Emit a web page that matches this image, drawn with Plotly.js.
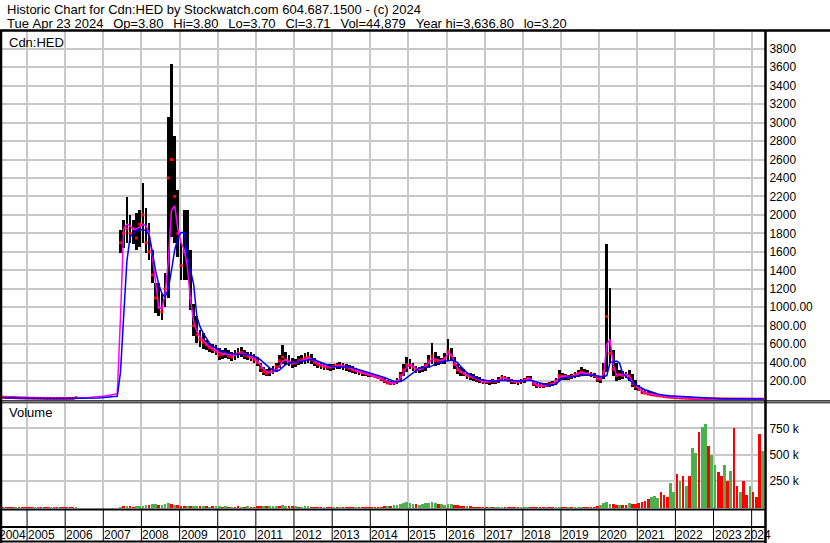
<!DOCTYPE html>
<html>
<head>
<meta charset="utf-8">
<script src="https://cdn.plot.ly/plotly-3.0.1.min.js"></script>
<style>
html,body{margin:0;padding:0;background:#fff;}
#chart{width:830px;height:543px;}
</style>
</head>
<body>
<div id="chart"></div>
<script>
// Monthly data, first month = May 2004, last month = April 2024
const firstYear = 2004, firstMonth = 5;

const high = [
  35,32,30,30,28,26,25,24,
  22,20,20,19,19,18,18,18,17,17,17,17,
  17,17,18,30,null,null,null,null,null,null,null,null,
  null,null,null,null,null,1835,1950,2196,2000,1950,2020,2050,
  2343,2080,1910,1620,1260,1260,1150,1370,3060,3636.8,2852,2270,
  1700,2050,2050,1620,1040,900,755,720,650,615,600,590,
  560,540,560,540,520,540,560,570,540,520,510,490,
  460,400,350,330,340,360,400,480,590,520,480,450,
  440,470,480,500,520,490,450,420,400,390,380,380,
  390,400,410,400,380,375,360,340,320,310,300,290,
  290,280,270,250,230,210,200,200,230,300,380,466,
  440,400,360,355,360,400,480,613,520,470,450,500,
  656,560,460,380,350,330,300,290,280,260,240,220,
  215,215,220,215,240,270,260,240,220,215,215,220,
  230,250,250,200,180,180,175,180,190,200,230,322,
  290,280,270,280,300,320,355,330,320,300,290,260,
  250,400,1684,1205,540,395,320,310,300,322,280,215,
  160,125,105,90,80,70,62,56,50,45,40,36,
  32,30,27,24,22,20,18,17,15,14,13,12,
  11,10,9,8.5,8,7.5,7,6.8,6.5,6.2,6,5.8,
  5.5,5.2,5,4.5
];

const low = [
  18,18,17,16,15,14,13,12,
  10,9,9,8,8,8,8,8,7,7,7,7,
  7,7,8,14,null,null,null,null,null,null,null,null,
  null,null,null,null,null,1590,1640,1700,1700,1690,1620,1650,
  1700,1585,1510,1260,940,900,862,1000,1100,1760,1700,1545,
  1300,1300,1300,970,690,610,570,550,540,520,500,480,
  430,440,450,440,420,430,450,460,440,430,420,400,
  360,300,270,250,260,280,300,340,380,370,360,340,
  350,370,380,390,400,380,360,340,330,320,320,310,
  320,330,330,320,310,300,290,280,270,260,250,240,
  240,230,220,200,180,165,160,160,170,190,250,300,
  330,310,290,290,300,310,340,380,360,370,380,390,
  430,420,330,280,260,250,220,210,200,190,180,170,
  165,160,170,170,180,200,200,190,170,165,160,165,
  180,200,200,150,130,130,130,135,140,150,160,200,
  215,215,215,220,230,240,260,250,250,240,230,190,
  180,220,300,400,250,200,215,220,230,200,140,105,
  90,65,55,48,42,38,33,30,27,24,21,19,
  17,15,14,12,11,10,9.5,9,8.5,8,7.5,7,
  6.5,6,5.5,5.2,5,4.8,4.5,4.3,4.2,4,3.9,3.7,
  3.5,3.3,3.2,3.2
];

const close = [
  25,24,22,22,20,18,17,16,
  15,14,14,13,13,12,12,12,11,11,11,11,
  11,11,12,20,null,null,null,null,null,null,null,null,
  null,null,null,null,null,1700,1800,1850,1800,1850,1750,1900,
  2000,1700,1600,1350,1100,1000,950,1200,2400,2600,2200,1800,
  1450,1600,1500,1100,800,700,650,620,590,560,540,520,
  480,490,500,470,460,490,500,510,480,470,450,430,
  400,340,300,280,300,320,360,420,460,430,400,390,
  400,420,430,450,460,430,400,380,370,360,350,350,
  360,370,370,360,350,340,320,310,300,290,280,270,
  260,250,240,220,200,180,175,180,200,260,320,380,
  370,350,320,330,340,370,420,470,420,420,420,450,
  520,480,380,320,300,280,260,250,240,220,210,190,
  190,195,200,195,210,240,230,210,200,190,190,200,
  210,230,220,170,150,150,145,155,165,170,200,260,
  250,250,240,250,270,280,300,280,280,270,260,220,
  220,300,900,500,330,260,270,260,270,250,170,140,
  110,80,70,60,55,48,42,38,32,28,25,22,
  20,18,16,14,13,12,11,10,10,9.5,9,8,
  7.5,7,6.5,6,5.8,5.5,5.2,5,4.8,4.6,4.4,4.2,
  4.1,4,3.9,3.71
];

// short moving average (magenta)
const maShort = [
  25,24,23,22,21,20,18,17,
  16,15,14,14,13,13,13,12,12,12,12,12,
  12,12,12,13,14,18,20,22,25,27,29,30,
  38,45,52,58,62,900,1850,1900,1880,1840,1850,1870,
  1900,1880,1800,1550,1250,1000,980,1150,1500,2050,2100,1850,
  1700,1620,1450,1080,850,740,680,640,600,570,555,530,
  510,495,495,490,480,480,490,500,500,485,465,445,
  420,370,330,300,290,300,320,360,420,430,415,400,
  400,410,420,435,450,440,415,390,375,365,355,352,
  355,365,370,365,355,345,330,315,305,295,285,275,
  265,255,245,230,210,190,180,178,190,230,290,350,
  380,360,335,325,335,360,400,440,440,425,420,440,
  500,490,410,340,305,285,265,252,242,225,210,195,
  192,195,198,198,208,230,230,215,200,192,192,198,
  210,225,222,185,158,150,148,152,162,170,195,240,
  255,250,245,248,262,278,295,285,280,272,262,232,
  225,280,600,650,380,270,270,265,268,260,190,150,
  125,95,75,65,58,50,44,40,35,30,27,24,
  21,19,17,15,14,13,12,11,10.5,10,9.5,9,
  8.5,8,7.5,7,6.8,6.5,6.2,6,5.8,5.5,5.2,5,
  4.8,4.5,4.2,4
];

// long moving average (blue)
const maLong = [
  20,20,19,18,18,17,17,16,
  16,16,15,14,13,12,12,12,11,11,11,11,
  11,11,11,12,14,15,16,16,17,17,18,20,
  25,28,30,32,35,300,900,1500,1765,1800,1835,1840,
  1840,1830,1780,1600,1400,1250,1150,1110,1200,1400,1620,1750,
  1810,1810,1550,1400,1250,900,790,720,660,610,575,555,
  540,525,510,500,495,490,490,490,490,485,480,470,
  455,430,400,370,340,320,310,320,350,380,395,400,
  400,405,410,420,430,435,430,415,400,385,370,360,
  355,355,360,360,358,352,345,335,325,315,305,295,
  285,275,265,255,240,225,210,198,190,195,210,235,
  265,295,320,340,345,345,350,365,385,400,410,415,
  420,425,420,400,360,320,290,265,245,230,218,210,
  205,200,198,198,200,205,210,210,208,205,202,200,
  200,205,210,200,190,175,165,160,158,158,165,200,
  230,240,245,248,250,255,260,262,265,265,262,255,
  250,250,260,400,412,418,395,280,250,214,180,150,
  142,120,106,95,82,70,60,52,46,42,39,37,
  35,32,28,25,22,20,18,16,14,13,12,11,
  10.5,10,9.5,9,8.5,8,7.5,7,6.8,6.5,6.2,6,
  5.8,5.5,5.2,5
];

// volume in thousands of shares
const volumeK = [
  8,8,7,8,7,7,6,7,
  6,7,6,6,5,6,6,5,6,5,6,5,
  5,6,5,6,null,null,null,null,null,null,null,null,
  null,null,null,null,null,8,10,12,10,9,10,12,
  15,20,25,30,35,25,20,30,40,35,25,20,
  15,12,18,15,12,10,10,12,10,8,10,12,
  10,8,10,8,9,8,10,9,8,10,8,9,
  10,12,15,10,12,10,12,18,20,15,12,10,
  10,9,8,10,12,9,8,8,7,8,7,8,
  7,8,7,6,8,7,6,7,6,7,6,7,
  8,7,8,9,10,12,15,20,25,35,45,50,
  40,35,30,28,35,40,45,50,40,35,30,28,
  35,30,25,20,15,12,10,10,9,8,8,8,
  7,7,8,8,9,8,7,6,6,7,6,6,
  6,7,8,7,6,6,6,5,6,6,7,8,
  7,7,6,6,7,8,8,7,7,8,8,10,
  20,45,50,35,30,25,25,22,28,40,35,30,
  40,50,60,80,100,110,90,150,120,100,230,150,
  320,250,300,200,300,560,520,713,760,795,580,500,
  400,340,300,400,250,350,750,200,150,250,120,200,
  150,100,700,540
];

// volume bar colour per month: g = up, r = down
const volUpDown =
  "rrrrgrrr" +
  "rrgrrrrgrrrr" +
  "rrrg--------" +
  "-----grgrrgg" +
  "ggrggrgggrgr" +
  "rrgrggrgrgrg" +
  "grgrgrrgrgrr" +
  "rrgrgggrggrr" +
  "grgggrrrrgrr" +
  "grgrrrrgrrrr" +
  "rrrrrgrggggg" +
  "ggrggggggrgg" +
  "ggrrrrgrrrrr" +
  "rgrgggrrrrrg" +
  "ggrrrrrgrrgg" +
  "rrgrgggrrrrr" +
  "ggggrrgrrgrr" +
  "rrrrgggrrrgg" +
  "rgrgrggrggrg" +
  "grrgrgrrgrrg" +
  "rrrg";

const priceTickVals = [200,400,600,800,1000,1200,1400,1600,1800,2000,2200,2400,2600,2800,3000,3200,3400,3600,3800];
const priceTickText = ['200.00','400.00','600.00','800.00','1000.00','1200','1400','1600','1800','2000','2200','2400','2600','2800','3000','3200','3400','3600','3800'];
const volTickVals = [250,500,750];
const volTickText = ['250 k','500 k','750 k'];
const yearLabels = ['2004','2005','2006','2007','2008','2009','2010','2011','2012','2013','2014','2015','2016','2017','2018','2019','2020','2021','2022','2023','2024'];

const titleLine1 = 'Historic Chart for Cdn:HED by Stockwatch.com 604.687.1500 - (c) 2024';
const titleLine2 = 'Tue Apr 23 2024  Op=3.80  Hi=3.80  Lo=3.70  Cl=3.71  Vol=44,879  Year hi=3,636.80  lo=3.20';

// ---------- build ----------
const FONT = 'Liberation Sans, Arial, sans-serif';
const W = 830, H = 543;
const px = v => v / W;
const py = v => 1 - v / H;

const dates = close.map((_, i) => {
  const t = (firstMonth - 1) + i;
  const y = firstYear + Math.floor(t / 12);
  const m = (t % 12) + 1;
  return y + '-' + String(m).padStart(2, '0') + '-15';
});
const spanHL = high.map((h, i) => (h == null || low[i] == null) ? null : h - low[i]);
const volColors = volumeK.map((v, i) => volUpDown[i] === 'g' ? '#4cb04c' : '#ff0000');
const barW = 26 * 24 * 3600 * 1000;

const traces = [
  {type:'bar', x:dates, y:spanHL, base:low, width:barW, marker:{color:'#000000', line:{width:0}}, xaxis:'x', yaxis:'y', hoverinfo:'skip'},
  {type:'scatter', mode:'markers', x:dates, y:close, marker:{symbol:'square', size:3, color:'#ff0000', line:{width:0}}, xaxis:'x', yaxis:'y', hoverinfo:'skip'},
  {type:'scatter', mode:'lines', x:dates, y:maShort, line:{color:'#ff00ff', width:1.5}, xaxis:'x', yaxis:'y', hoverinfo:'skip'},
  {type:'scatter', mode:'lines', x:dates, y:maLong, line:{color:'#0000ff', width:1.5}, xaxis:'x', yaxis:'y', hoverinfo:'skip'},
  {type:'bar', x:dates, y:volumeK, width:barW, marker:{color:volColors, line:{width:0}}, xaxis:'x2', yaxis:'y2', hoverinfo:'skip'}
];

const grid = '#c8c8c8';
const xCommon = {
  type:'date', range:['2004-05-06','2024-05-08'], showgrid:true, gridcolor:grid, gridwidth:2,
  tick0:'2005-01-01', dtick:'M12', showticklabels:false, ticks:'', zeroline:false, showline:false, fixedrange:true
};

const shapes = [];
function hline(y, x0, x1, w) {
  shapes.push({type:'line', xref:'paper', yref:'paper', x0:px(x0), x1:px(x1), y0:py(y), y1:py(y), line:{color:'#000', width:w}, layer:'above'});
}
function vline(x, y0, y1, w) {
  shapes.push({type:'line', xref:'paper', yref:'paper', x0:px(x), x1:px(x), y0:py(y0), y1:py(y1), line:{color:'#000', width:w}, layer:'above'});
}
hline(30.5, 0, 830, 2.5);
vline(1, 30, 543, 2.5);
vline(765.5, 30, 543, 2.5);
hline(400.8, 0, 830, 1.3);
hline(402.8, 0, 830, 1);
hline(509.5, 0, 765, 2);
hline(527, 0, 765, 2);
hline(541.5, 0, 765, 2);
yearLabels.slice(1).forEach(yr => {
  shapes.push({type:'line', xref:'x', yref:'paper', x0:yr + '-01-01', x1:yr + '-01-01', y0:py(509.5), y1:py(541.5), line:{color:'#000', width:1}, layer:'above'});
});

const annotations = [];
function label(text, x, y, anchor, size) {
  annotations.push({text:text, xref:'paper', yref:'paper', x:px(x), y:py(y), xanchor:anchor || 'left', yanchor:'middle', showarrow:false, borderpad:0, font:{family:FONT, size:size || 12, color:'#000'}});
}
label(titleLine1, 5.5, 9.3, 'left', 13);
label(titleLine2.replace(/  /g, '\u00a0\u00a0\u2009').replace(/ /g, '\u00a0'), 5.5, 23.6, 'left', 13);
label('Cdn:HED', 8, 42, 'left', 13);
label('Volume', 8, 413, 'left', 13);
yearLabels.forEach((yr, i) => {
  if (i === 0) { label(yr, -2, 534.5); return; }
  if (i === yearLabels.length - 1) { label(yr, 772, 534.5, 'right'); return; }
  annotations.push({text:yr, xref:'x', yref:'paper', x:yr + '-01-01', y:py(534.5), xanchor:'left', yanchor:'middle', xshift:0, borderpad:0, showarrow:false, font:{family:FONT, size:12, color:'#000'}});
});

const layout = {
  width:W, height:H, margin:{l:0, r:0, t:0, b:0, pad:0},
  paper_bgcolor:'#ffffff', plot_bgcolor:'#ffffff', showlegend:false, barmode:'overlay', bargap:0,
  font:{family:FONT, size:12, color:'#000'},
  xaxis:Object.assign({domain:[px(2), px(765)], anchor:'y'}, xCommon),
  xaxis2:Object.assign({domain:[px(2), px(765)], anchor:'y2', matches:'x'}, xCommon),
  yaxis:{domain:[py(400), py(31)], anchor:'x', side:'right', range:[-5, 3993], tickmode:'array', tickvals:priceTickVals, ticktext:priceTickText,
    showgrid:true, gridcolor:grid, gridwidth:2, zeroline:false, showline:false, ticks:'outside', ticklen:1, tickcolor:'rgba(0,0,0,0)',
    tickfont:{family:FONT, size:12, color:'#000'}, fixedrange:true},
  yaxis2:{domain:[py(508.5), py(403)], anchor:'x2', side:'right', range:[-9, 990], tickmode:'array', tickvals:volTickVals, ticktext:volTickText,
    showgrid:true, gridcolor:grid, gridwidth:2, zeroline:false, showline:false, ticks:'outside', ticklen:1, tickcolor:'rgba(0,0,0,0)',
    tickfont:{family:FONT, size:12, color:'#000'}, fixedrange:true},
  shapes:shapes,
  annotations:annotations
};

Plotly.newPlot('chart', traces, layout, {staticPlot:true, displayModeBar:false});
</script>
</body>
</html>
